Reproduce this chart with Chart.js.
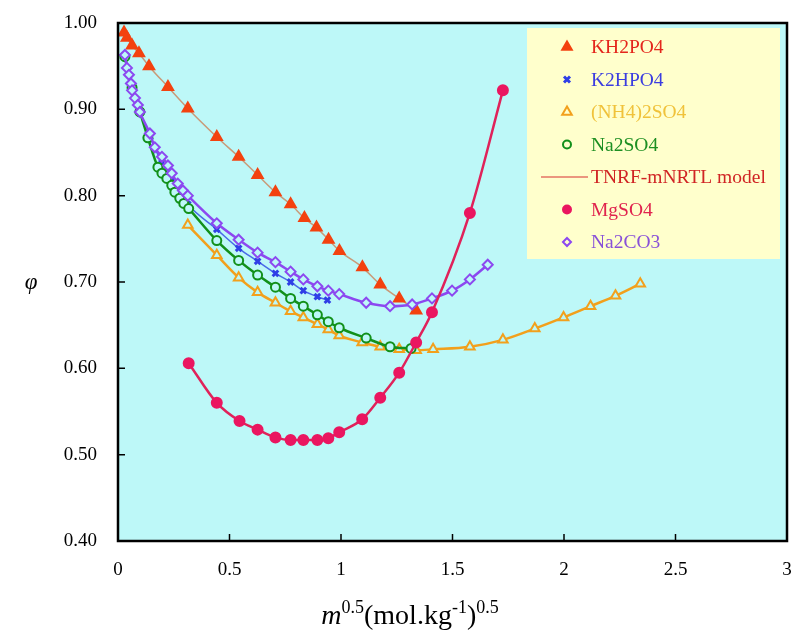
<!DOCTYPE html>
<html>
<head>
<meta charset="utf-8">
<script src="https://cdn.jsdelivr.net/npm/chart.js@4.4.0/dist/chart.umd.min.js"></script>
<style>
  html, body { margin: 0; padding: 0; background: #ffffff; }
  #wrap { width: 795px; height: 635px; }
</style>
</head>
<body>
<div id="wrap"><canvas id="phiChart" width="795" height="635"></canvas></div>
<script>
// Osmotic coefficient data (x = m^0.5, y = phi)
const kh2po4X = [0.027, 0.040, 0.063, 0.094, 0.139, 0.224, 0.313, 0.443, 0.541, 0.626, 0.706, 0.774, 0.836, 0.890, 0.944, 0.993, 1.096, 1.176, 1.261, 1.337];
const kh2po4Y = [0.989, 0.983, 0.974, 0.965, 0.950, 0.926, 0.901, 0.868, 0.845, 0.824, 0.804, 0.790, 0.774, 0.763, 0.749, 0.736, 0.717, 0.697, 0.681, 0.667];

const k2hpo4X = [0.031, 0.063, 0.098, 0.143, 0.197, 0.241, 0.313, 0.443, 0.541, 0.626, 0.706, 0.774, 0.831, 0.894, 0.939];
const k2hpo4Y = [0.961, 0.925, 0.898, 0.868, 0.838, 0.818, 0.790, 0.761, 0.739, 0.724, 0.710, 0.700, 0.690, 0.683, 0.679];

const nh4so4X = [0.313, 0.443, 0.541, 0.626, 0.706, 0.774, 0.831, 0.894, 0.943, 0.992, 1.095, 1.176, 1.261, 1.337, 1.413, 1.578, 1.726, 1.869, 1.998, 2.119, 2.231, 2.342];
const nh4so4Y = [0.766, 0.731, 0.705, 0.688, 0.676, 0.666, 0.659, 0.651, 0.645, 0.638, 0.630, 0.625, 0.622, 0.621, 0.622, 0.625, 0.633, 0.646, 0.659, 0.672, 0.684, 0.698];

const na2so4X = [0.031, 0.063, 0.098, 0.134, 0.179, 0.197, 0.219, 0.241, 0.255, 0.277, 0.295, 0.317, 0.443, 0.541, 0.626, 0.706, 0.774, 0.831, 0.894, 0.943, 0.992, 1.113, 1.220, 1.314];
const na2so4Y = [0.961, 0.925, 0.897, 0.867, 0.833, 0.826, 0.820, 0.812, 0.804, 0.797, 0.791, 0.785, 0.748, 0.725, 0.708, 0.694, 0.681, 0.672, 0.662, 0.654, 0.647, 0.635, 0.625, 0.623];

const mgso4X = [0.317, 0.443, 0.545, 0.626, 0.706, 0.774, 0.831, 0.894, 0.943, 0.992, 1.095, 1.176, 1.261, 1.337, 1.408, 1.578, 1.726];
const mgso4Y = [0.606, 0.560, 0.539, 0.529, 0.520, 0.517, 0.517, 0.517, 0.519, 0.526, 0.541, 0.566, 0.595, 0.630, 0.665, 0.780, 0.922];

const na2co3X = [0.031, 0.040, 0.049, 0.058, 0.063, 0.076, 0.089, 0.098, 0.143, 0.165, 0.197, 0.224, 0.241, 0.268, 0.291, 0.313, 0.443, 0.541, 0.626, 0.706, 0.774, 0.831, 0.894, 0.943, 0.992, 1.113, 1.220, 1.319, 1.408, 1.498, 1.578, 1.658];
const na2co3Y = [0.963, 0.948, 0.940, 0.930, 0.922, 0.913, 0.905, 0.897, 0.872, 0.856, 0.845, 0.835, 0.826, 0.814, 0.806, 0.800, 0.768, 0.749, 0.734, 0.723, 0.712, 0.703, 0.695, 0.690, 0.686, 0.676, 0.672, 0.674, 0.681, 0.690, 0.703, 0.720];

const xTicks = [0, 0.5, 1, 1.5, 2, 2.5, 3];
const yTicks = [0.4, 0.5, 0.6, 0.7, 0.8, 0.9, 1.0];

const plotBg = '#bdf8f8';
const serif = "'Liberation Serif', 'Times New Roman', serif";

function toPoints(xs, ys) {
    return xs.map((x, i) => ({ x: x, y: ys[i] }));
}

// Series list in legend order; the model entry is just a legend line
const series = [
    { label: 'KH2PO4', xs: kh2po4X, ys: kh2po4Y, marker: 'triangle', fill: true, color: '#f3420f', line: '#c99a78', lineWidth: 1.5, radius: 6, text: '#e4261c', order: 6 },
    { label: 'K2HPO4', xs: k2hpo4X, ys: k2hpo4Y, marker: 'crossRot', fill: false, color: '#2f3fe6', line: '#4a6ae8', lineWidth: 1.5, radius: 4, text: '#3b3de0', order: 4 },
    { label: '(NH4)2SO4', xs: nh4so4X, ys: nh4so4Y, marker: 'triangle', fill: false, color: '#f2a01c', line: '#f2a01c', lineWidth: 2.5, radius: 5.5, text: '#f0c23a', order: 5 },
    { label: 'Na2SO4', xs: na2so4X, ys: na2so4Y, marker: 'circle', fill: false, color: '#12901a', line: '#12901a', lineWidth: 2.5, radius: 4.5, text: '#1d8f22', order: 3 },
    { label: 'TNRF-mNRTL model', model: true, text: '#d02424', line: '#d83030' },
    { label: 'MgSO4', xs: mgso4X, ys: mgso4Y, marker: 'circle', fill: true, color: '#ea1660', line: '#e0225a', lineWidth: 2.5, radius: 5, text: '#e0244e', order: 1 },
    { label: 'Na2CO3', xs: na2co3X, ys: na2co3Y, marker: 'rectRot', fill: false, color: '#8c48f0', line: '#8c48f0', lineWidth: 2.5, radius: 5, text: '#8850d8', order: 2 }
];

const datasets = series.filter(s => !s.model).map(s => ({
    label: s.label,
    data: toPoints(s.xs, s.ys),
    showLine: true,
    borderColor: s.line,
    borderWidth: s.lineWidth,
    pointStyle: s.marker,
    pointRadius: s.radius,
    pointBorderColor: s.color,
    pointBackgroundColor: s.fill ? s.color : plotBg,
    pointBorderWidth: s.marker === 'crossRot' ? 3 : 2,
    cubicInterpolationMode: 'monotone',
    tension: 0.3,
    order: s.order
}));

// small marker painter for the legend
function drawMarker(ctx, style, x, y, r, color, filled) {
    ctx.save();
    ctx.strokeStyle = color;
    ctx.fillStyle = filled ? color : '#ffffcc';
    ctx.lineWidth = style === 'crossRot' ? 3 : 2;
    ctx.beginPath();
    if (style === 'triangle') {
        ctx.moveTo(x, y - r);
        ctx.lineTo(x + r * 0.87, y + r * 0.5);
        ctx.lineTo(x - r * 0.87, y + r * 0.5);
        ctx.closePath();
        ctx.fill(); ctx.stroke();
    } else if (style === 'circle') {
        ctx.arc(x, y, r, 0, Math.PI * 2);
        ctx.fill(); ctx.stroke();
    } else if (style === 'rectRot') {
        ctx.moveTo(x, y - r); ctx.lineTo(x + r, y); ctx.lineTo(x, y + r); ctx.lineTo(x - r, y);
        ctx.closePath();
        ctx.fill(); ctx.stroke();
    } else if (style === 'crossRot') {
        const d = r * 0.75;
        ctx.moveTo(x - d, y - d); ctx.lineTo(x + d, y + d);
        ctx.moveTo(x + d, y - d); ctx.lineTo(x - d, y + d);
        ctx.stroke();
    }
    ctx.restore();
}

const framePlugin = {
    id: 'frame',
    beforeDraw(chart) {
        const { ctx, chartArea: a } = chart;
        ctx.save();
        ctx.fillStyle = plotBg;
        ctx.fillRect(a.left, a.top, a.right - a.left, a.bottom - a.top);
        ctx.restore();
    },
    afterDatasetsDraw(chart) {
        const { ctx, chartArea: a, scales } = chart;
        ctx.save();
        // legend box inside the plot
        const lx = 527, ly = 28, lw = 253, lh = 231;
        ctx.fillStyle = '#ffffcc';
        ctx.fillRect(lx, ly, lw, lh);
        ctx.font = '19.5px ' + serif;
        ctx.textBaseline = 'middle';
        series.forEach((s, i) => {
            const cy = 47 + i * 32.5;
            if (s.model) {
                ctx.strokeStyle = s.line;
                ctx.lineWidth = 1.2;
                ctx.beginPath();
                ctx.moveTo(541, cy); ctx.lineTo(588, cy);
                ctx.stroke();
            } else {
                drawMarker(ctx, s.marker, 567, cy, s.marker === 'triangle' ? 5.5 : 4, s.color, s.fill);
            }
            ctx.fillStyle = s.text;
            ctx.fillText(s.label, 591, cy + 1);
        });

        // inward tick marks
        ctx.strokeStyle = '#000';
        ctx.lineWidth = 1.5;
        ctx.beginPath();
        xTicks.forEach(v => {
            const px = scales.x.getPixelForValue(v);
            ctx.moveTo(px, a.bottom); ctx.lineTo(px, a.bottom - 7);
        });
        yTicks.forEach(v => {
            const py = scales.y.getPixelForValue(v);
            ctx.moveTo(a.left, py); ctx.lineTo(a.left + 7, py);
        });
        ctx.stroke();

        // plot frame
        ctx.lineWidth = 2.5;
        ctx.strokeRect(a.left, a.top, a.right - a.left, a.bottom - a.top);

        // y title
        ctx.fillStyle = '#000';
        ctx.font = 'italic 23px ' + serif;
        ctx.textAlign = 'center';
        ctx.fillText('\u03c6', 31, 283);

        // x title with superscripts
        const parts = [
            { t: 'm', f: 'italic 28px ' + serif, dy: 0 },
            { t: '0.5', f: '18px ' + serif, dy: -11 },
            { t: '(mol.kg', f: '28px ' + serif, dy: 0 },
            { t: '-1', f: '18px ' + serif, dy: -11 },
            { t: ')', f: '28px ' + serif, dy: 0 },
            { t: '0.5', f: '18px ' + serif, dy: -11 }
        ];
        ctx.textAlign = 'left';
        ctx.textBaseline = 'alphabetic';
        let total = 0;
        parts.forEach(p => { ctx.font = p.f; total += ctx.measureText(p.t).width; });
        let tx = 410 - total / 2;
        parts.forEach(p => {
            ctx.font = p.f;
            ctx.fillText(p.t, tx, 624 + p.dy);
            tx += ctx.measureText(p.t).width;
        });
        ctx.restore();
    }
};

new Chart(document.getElementById('phiChart'), {
    type: 'scatter',
    data: { datasets: datasets },
    options: {
        responsive: false,
        animation: false,
        layout: { padding: { top: 23, right: 5, left: 0, bottom: 0 } },
        plugins: {
            legend: { display: false },
            tooltip: { enabled: false }
        },
        scales: {
            x: {
                type: 'linear',
                min: 0,
                max: 3,
                afterBuildTicks: (scale) => { scale.ticks = xTicks.map(v => ({ value: v })); },
                afterFit: (scale) => {
                    scale.height = 94;
                    scale.paddingLeft = 0;
                    scale.paddingRight = 0;
                },
                grid: { display: false, drawTicks: false },
                border: { display: false },
                ticks: {
                    padding: 18,
                    color: '#000',
                    font: { family: serif, size: 19 },
                    callback: (v) => String(v)
                }
            },
            y: {
                type: 'linear',
                min: 0.4,
                max: 1.0,
                afterBuildTicks: (scale) => { scale.ticks = yTicks.map(v => ({ value: v })); },
                afterFit: (scale) => {
                    scale.width = 118;
                    scale.paddingTop = 0;
                    scale.paddingBottom = 0;
                },
                grid: { display: false, drawTicks: false },
                border: { display: false },
                ticks: {
                    padding: 21,
                    color: '#000',
                    font: { family: serif, size: 19 },
                    callback: (v) => Number(v).toFixed(2)
                }
            }
        }
    },
    plugins: [framePlugin]
});
</script>
</body>
</html>
